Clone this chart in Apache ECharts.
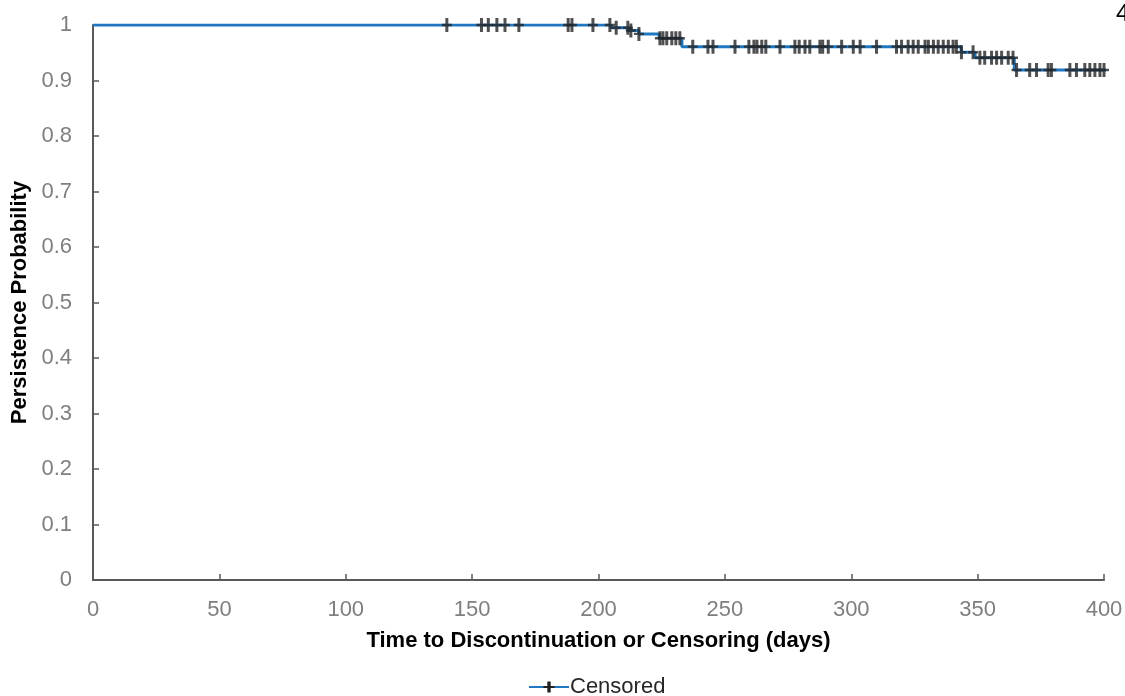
<!DOCTYPE html>
<html>
<head>
<meta charset="utf-8">
<script src="https://cdn.jsdelivr.net/npm/echarts@6/dist/echarts.min.js"></script>
<style>html,body{margin:0;padding:0;background:#fff;}#c{width:1125px;height:696px;}</style>
</head>
<body>
<div id="c"></div>
<script>
// Kaplan-Meier step curve (time in days, survival probability)
var stepTimes = [0, 205, 212, 216, 224, 233, 343.5, 349, 364.5, 401];
var stepSurv  = [1, 0.995, 0.99, 0.984, 0.976, 0.961, 0.951, 0.941, 0.919, 0.919];
// Censoring times (days)
var censorTimes = [140, 153.7, 156.4, 159.8, 163, 168.5, 188, 189.5, 197.8,
  204.5, 207, 211.6, 212.8, 216, 224.3, 225.5, 227, 229, 230.6, 232.2,
  237.3, 243.3, 245.3, 254, 259.5, 261.5, 262.7, 264.6, 266.2, 271.8,
  277.7, 279.4, 281.7, 283.6, 287.6, 288.7, 290.9, 296.2, 300.8, 303.5,
  310, 317.9, 319.9, 322.5, 324.5, 326.5, 329.2, 330.5, 332.5, 334.4,
  336.4, 338.4, 340.3, 341.6, 343.6, 348.2, 350.9, 352.8, 355.5, 357.5,
  359.5, 362.1, 364, 365.4, 370.6, 373.3, 377.9, 379.2, 386.5, 389.1,
  392.4, 394.4, 396.4, 398.4, 400];
var xTicks = [0, 400, 50];
var yTicks = [0, 1, 0.1];

function survAt(t) {
  var s = stepSurv[0];
  for (var i = 0; i < stepTimes.length; i++) { if (stepTimes[i] <= t) s = stepSurv[i]; }
  return s;
}
var curveData = stepTimes.map(function (t, i) { return [t, stepSurv[i]]; });
var censorData = censorTimes.map(function (t) { return [t, survAt(t)]; });
var plusPath = 'path://M3.5,0 L6.5,0 L6.5,14 L3.5,14 Z M0,5.8 L10,5.8 L10,8.2 L0,8.2 Z';

var chart = echarts.init(document.getElementById('c'));
chart.setOption({
  animation: false,
  backgroundColor: '#fff',
  grid: { left: 93, right: 21, top: 25, bottom: 116, outerBoundsMode: 'none', containLabel: false },
  legend: {
    data: ['Censored'], top: 671, left: 523, itemWidth: 40, itemHeight: 14, itemGap: 2,
    textStyle: { fontFamily: 'Liberation Sans', fontSize: 22, color: '#262626', padding: [0,0,0,-4] }
  },
  xAxis: {
    type: 'value', min: xTicks[0], max: xTicks[1], interval: xTicks[2],
    name: 'Time to Discontinuation or Censoring (days)', nameLocation: 'middle', nameGap: 50,
    nameTextStyle: { fontFamily: 'Liberation Sans', fontSize: 22, fontWeight: 'bold', color: '#000' },
    axisLine: { lineStyle: { color: '#595959', width: 2 } },
    axisTick: { inside: true, length: 6, lineStyle: { color: '#595959', width: 1.5 } },
    axisLabel: { margin: 19, fontFamily: 'Liberation Sans', fontSize: 22, color: '#7f7f7f' },
    splitLine: { show: false }
  },
  yAxis: {
    type: 'value', min: yTicks[0], max: yTicks[1], interval: yTicks[2],
    name: 'Persistence Probability', nameLocation: 'middle', nameGap: 62, nameRotate: 90,
    nameTextStyle: { fontFamily: 'Liberation Sans', fontSize: 22, fontWeight: 'bold', color: '#000' },
    axisLine: { show: true, lineStyle: { color: '#595959', width: 2 } },
    axisTick: { show: true, inside: true, length: 6, lineStyle: { color: '#595959', width: 1.5 } },
    axisLabel: { margin: 21, fontFamily: 'Liberation Sans', fontSize: 22, color: '#7f7f7f',
      formatter: function (v) { return String(Math.round(v * 10) / 10); } },
    splitLine: { show: false }
  },
  series: [
    {
      name: 'Censored', type: 'line', step: 'end', data: curveData,
      showSymbol: false, symbol: plusPath, symbolSize: [10, 14],
      itemStyle: { color: '#222' },
      lineStyle: { color: '#1f78c1', width: 3 },
      silent: true, z: 2
    },
    {
      name: 'marks', type: 'scatter', data: censorData,
      symbol: plusPath, symbolSize: [10, 14],
      itemStyle: { color: '#262626', opacity: 0.8 },
      silent: true, z: 3
    }
  ],
  graphic: [
    { type: 'text', left: 1116, top: 2, style: { text: '4', font: '24px Liberation Sans', fill: '#000' } }
  ]
});
</script>
</body>
</html>
